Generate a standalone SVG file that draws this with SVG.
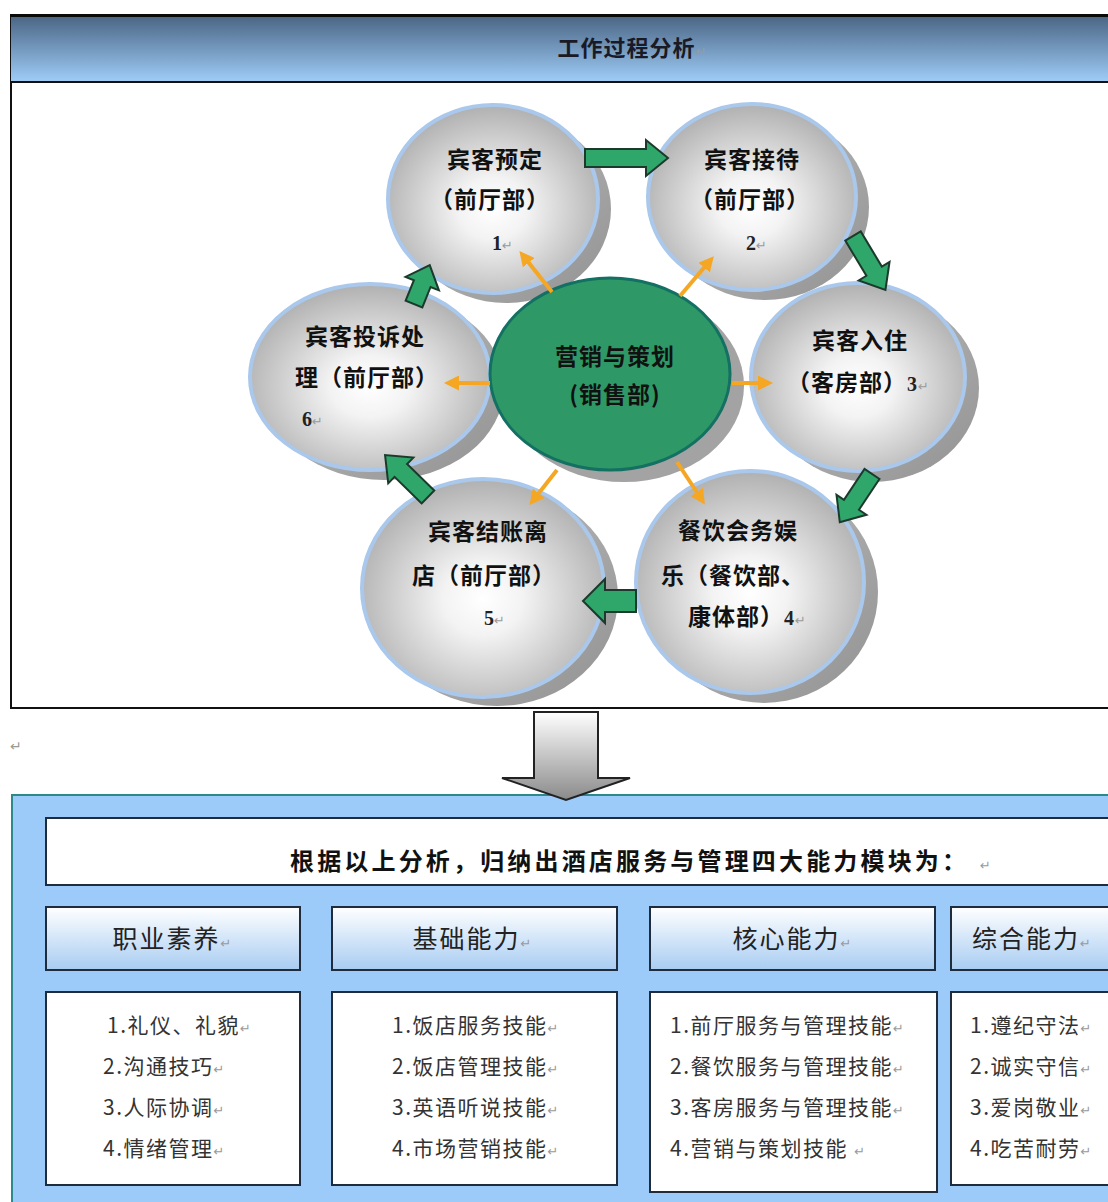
<svg xmlns="http://www.w3.org/2000/svg" width="1108" height="1202" viewBox="0 0 1108 1202">
<defs>
<radialGradient id="sph" cx="50%" cy="55%" r="55%">
<stop offset="0" stop-color="#ffffff"/>
<stop offset="0.3" stop-color="#f3f3f3"/>
<stop offset="1" stop-color="#b0b0b0"/>
</radialGradient>
<linearGradient id="shd" x1="0" y1="0" x2="1" y2="1">
<stop offset="0" stop-color="#c4c4c4"/>
<stop offset="1" stop-color="#929292"/>
</linearGradient>
<linearGradient id="hdr" x1="0" y1="0" x2="0" y2="1">
<stop offset="0" stop-color="#4a6584"/>
<stop offset="1" stop-color="#9fcdf8"/>
</linearGradient>
<linearGradient id="mod" x1="0" y1="0" x2="0" y2="1">
<stop offset="0" stop-color="#ffffff"/>
<stop offset="1" stop-color="#a8ccf2"/>
</linearGradient>
<linearGradient id="down" x1="0" y1="0" x2="0" y2="1">
<stop offset="0" stop-color="#ffffff"/>
<stop offset="1" stop-color="#8a8a8a"/>
</linearGradient>
<marker id="oh" viewBox="0 0 10 10" refX="4" refY="5" markerWidth="15" markerHeight="15" markerUnits="userSpaceOnUse" orient="auto">
<path d="M0,0 L10,5 L0,10 Z" fill="#f5a623"/>
</marker>
<style>
.sph{fill:url(#sph);stroke:#a9c8ec;stroke-width:4}
.shd{fill:url(#shd)}
.ct{font-family:"Noto Sans CJK SC","Noto Sans CJK JP",sans-serif;font-weight:700;font-size:23px;fill:#111;text-anchor:middle;letter-spacing:1px}
.num{font-family:"Liberation Serif",serif;font-weight:700;font-size:20px;fill:#222}
.ret{font-family:"DejaVu Sans",sans-serif;font-size:13px;fill:#9a9a9a;font-weight:400;letter-spacing:0}
.g{fill:#2fa66a;stroke:#1c3a2c;stroke-width:2;stroke-linejoin:miter}
.o{stroke:#f5a623;stroke-width:4;fill:none;marker-end:url(#oh)}
.mh{fill:url(#mod);stroke:#1e2c3e;stroke-width:2}
.mb{fill:#ffffff;stroke:#1e2c3e;stroke-width:2}
.mt{font-family:"Noto Sans CJK SC",sans-serif;font-size:25px;fill:#222;text-anchor:middle;letter-spacing:2px}
.li{font-family:"Noto Sans CJK SC",sans-serif;font-size:21px;fill:#333;letter-spacing:1.5px}
</style>
</defs>

<rect width="1108" height="1202" fill="#ffffff"/>

<g id="frame">
<rect x="11" y="16" width="1110" height="692" fill="#ffffff" stroke="#111" stroke-width="2"/>
<rect x="11" y="16" width="1110" height="66" fill="url(#hdr)"/>
<line x1="10" y1="15.5" x2="1108" y2="15.5" stroke="#0a0a0a" stroke-width="3"/>
<line x1="10" y1="82" x2="1108" y2="82" stroke="#111" stroke-width="2"/>
<text x="632" y="56" class="ct" style="font-size:22px;fill:#1a1a26">工作过程分析<tspan class="ret">↵</tspan></text>
</g>

<g id="shadows">
<ellipse cx="506" cy="209" rx="105" ry="94" class="shd"/>
<ellipse cx="765" cy="207" rx="104" ry="93" class="shd"/>
<ellipse cx="872" cy="388" rx="107" ry="94" class="shd"/>
<ellipse cx="764" cy="592" rx="114" ry="111" class="shd"/>
<ellipse cx="497" cy="597" rx="121" ry="109" class="shd"/>
<ellipse cx="384" cy="387" rx="120" ry="93" class="shd"/>
</g>

<g id="node-1">
<ellipse cx="493" cy="199" rx="105" ry="94" class="sph"/>
<text x="495" y="168" class="ct">宾客预定</text>
<text x="490" y="208" class="ct">（前厅部）</text>
<text x="492" y="250" class="num">1<tspan class="ret">↵</tspan></text>
</g>
<g id="node-2">
<ellipse cx="752" cy="197" rx="104" ry="93" class="sph"/>
<text x="752" y="168" class="ct">宾客接待</text>
<text x="750" y="208" class="ct">（前厅部）</text>
<text x="746" y="250" class="num">2<tspan class="ret">↵</tspan></text>
</g>
<g id="node-3">
<ellipse cx="858" cy="377" rx="107" ry="94" class="sph"/>
<text x="860" y="349" class="ct">宾客入住</text>
<text x="858" y="391" class="ct">（客房部）<tspan class="num">3</tspan><tspan class="ret">↵</tspan></text>
</g>
<g id="node-4">
<ellipse cx="750" cy="582" rx="114" ry="111" class="sph"/>
<text x="738" y="539" class="ct">餐饮会务娱</text>
<text x="733" y="584" class="ct">乐（餐饮部、</text>
<text x="747" y="625" class="ct">康体部）<tspan class="num">4</tspan><tspan class="ret">↵</tspan></text>
</g>
<g id="node-5">
<ellipse cx="483" cy="588" rx="121" ry="109" class="sph"/>
<text x="488" y="540" class="ct">宾客结账离</text>
<text x="484" y="584" class="ct">店（前厅部）</text>
<text x="484" y="625" class="num">5<tspan class="ret">↵</tspan></text>
</g>
<g id="node-6">
<ellipse cx="370" cy="377" rx="120" ry="93" class="sph"/>
<text x="365" y="345" class="ct">宾客投诉处</text>
<text x="367" y="386" class="ct">理（前厅部）</text>
<text x="302" y="426" class="num">6<tspan class="ret">↵</tspan></text>
</g>

<g id="node-center">
<ellipse cx="624" cy="386" rx="120" ry="96" fill="#a3a3a3"/>
<ellipse cx="610" cy="374" rx="120" ry="96" fill="#2e9966" stroke="#137063" stroke-width="3"/>
<text x="615" y="365" class="ct">营销与策划</text>
<text x="615" y="403" class="ct">(销售部)</text>
</g>

<g id="connectors">
<path class="g" transform="translate(585,158)" d="M0,-9 H61 V-18 L83,0 L61,18 V9 H0 Z"/>
<path class="g" transform="translate(853,236) rotate(59)" d="M0,-9 H41 V-18 L63,0 L41,18 V9 H0 Z"/>
<path class="g" transform="translate(872,474) rotate(123.7)" d="M0,-9 H37 V-18 L58,0 L37,18 V9 H0 Z"/>
<path class="g" transform="translate(636,601) rotate(180)" d="M0,-11 H31 V-22 L53,0 L31,22 V11 H0 Z"/>
<path class="g" transform="translate(428,497) rotate(-135.7)" d="M0,-9 H38 V-18 L60,0 L38,18 V9 H0 Z"/>
<path class="g" transform="translate(414,304) rotate(-68)" d="M0,-9 H22 V-18 L42,0 L22,18 V9 H0 Z"/>
<line class="o" x1="552" y1="292" x2="525" y2="258"/>
<line class="o" x1="680" y1="296" x2="708" y2="263"/>
<line class="o" x1="732" y1="383" x2="764" y2="383"/>
<line class="o" x1="677" y1="462" x2="700" y2="497"/>
<line class="o" x1="557" y1="470" x2="535" y2="498"/>
<line class="o" x1="490" y1="383" x2="453" y2="383"/>
</g>

<text x="10" y="751" class="ret" style="font-size:14px">↵</text>

<g id="panel">
<rect x="12" y="795" width="1110" height="420" fill="#9ccbfa" stroke="#2d8a8c" stroke-width="2"/>
</g>

<g id="down-arrow">
<path d="M534,712 H598 V778 H630 L566,800 L502,778 H534 Z" fill="url(#down)" stroke="#222" stroke-width="2" stroke-linejoin="miter"/>
</g>

<g id="summary">
<rect x="46" y="818" width="1080" height="67" class="mb"/>
<text x="290" y="870" class="ct" style="text-anchor:start;font-size:24px;letter-spacing:0" textLength="676">根据以上分析，归纳出酒店服务与管理四大能力模块为：</text>
<text x="980" y="870" class="ret">↵</text>
</g>

<g id="module-1">
<rect x="46" y="907" width="254" height="63" class="mh"/>
<text x="172" y="948" class="mt">职业素养<tspan class="ret">↵</tspan></text>
<rect x="46" y="992" width="254" height="193" class="mb"/>
<text x="107" y="1033" class="li">1.礼仪、礼貌<tspan class="ret">↵</tspan></text>
<text x="103" y="1074" class="li">2.沟通技巧<tspan class="ret">↵</tspan></text>
<text x="103" y="1115" class="li">3.人际协调<tspan class="ret">↵</tspan></text>
<text x="103" y="1156" class="li">4.情绪管理<tspan class="ret">↵</tspan></text>
</g>
<g id="module-2">
<rect x="332" y="907" width="285" height="63" class="mh"/>
<text x="472" y="948" class="mt">基础能力<tspan class="ret">↵</tspan></text>
<rect x="332" y="992" width="285" height="193" class="mb"/>
<text x="392" y="1033" class="li">1.饭店服务技能<tspan class="ret">↵</tspan></text>
<text x="392" y="1074" class="li">2.饭店管理技能<tspan class="ret">↵</tspan></text>
<text x="392" y="1115" class="li">3.英语听说技能<tspan class="ret">↵</tspan></text>
<text x="392" y="1156" class="li">4.市场营销技能<tspan class="ret">↵</tspan></text>
</g>
<g id="module-3">
<rect x="650" y="907" width="285" height="63" class="mh"/>
<text x="792" y="948" class="mt">核心能力<tspan class="ret">↵</tspan></text>
<rect x="650" y="992" width="287" height="200" class="mb"/>
<text x="670" y="1033" class="li">1.前厅服务与管理技能<tspan class="ret">↵</tspan></text>
<text x="670" y="1074" class="li">2.餐饮服务与管理技能<tspan class="ret">↵</tspan></text>
<text x="670" y="1115" class="li">3.客房服务与管理技能<tspan class="ret">↵</tspan></text>
<text x="670" y="1156" class="li">4.营销与策划技能 <tspan class="ret">↵</tspan></text>
</g>
<g id="module-4">
<rect x="951" y="907" width="180" height="63" class="mh"/>
<text x="972" y="948" class="mt" style="text-anchor:start">综合能力<tspan class="ret">↵</tspan></text>
<rect x="951" y="992" width="180" height="193" class="mb"/>
<text x="970" y="1033" class="li">1.遵纪守法<tspan class="ret">↵</tspan></text>
<text x="970" y="1074" class="li">2.诚实守信<tspan class="ret">↵</tspan></text>
<text x="970" y="1115" class="li">3.爱岗敬业<tspan class="ret">↵</tspan></text>
<text x="970" y="1156" class="li">4.吃苦耐劳<tspan class="ret">↵</tspan></text>
</g>
</svg>
